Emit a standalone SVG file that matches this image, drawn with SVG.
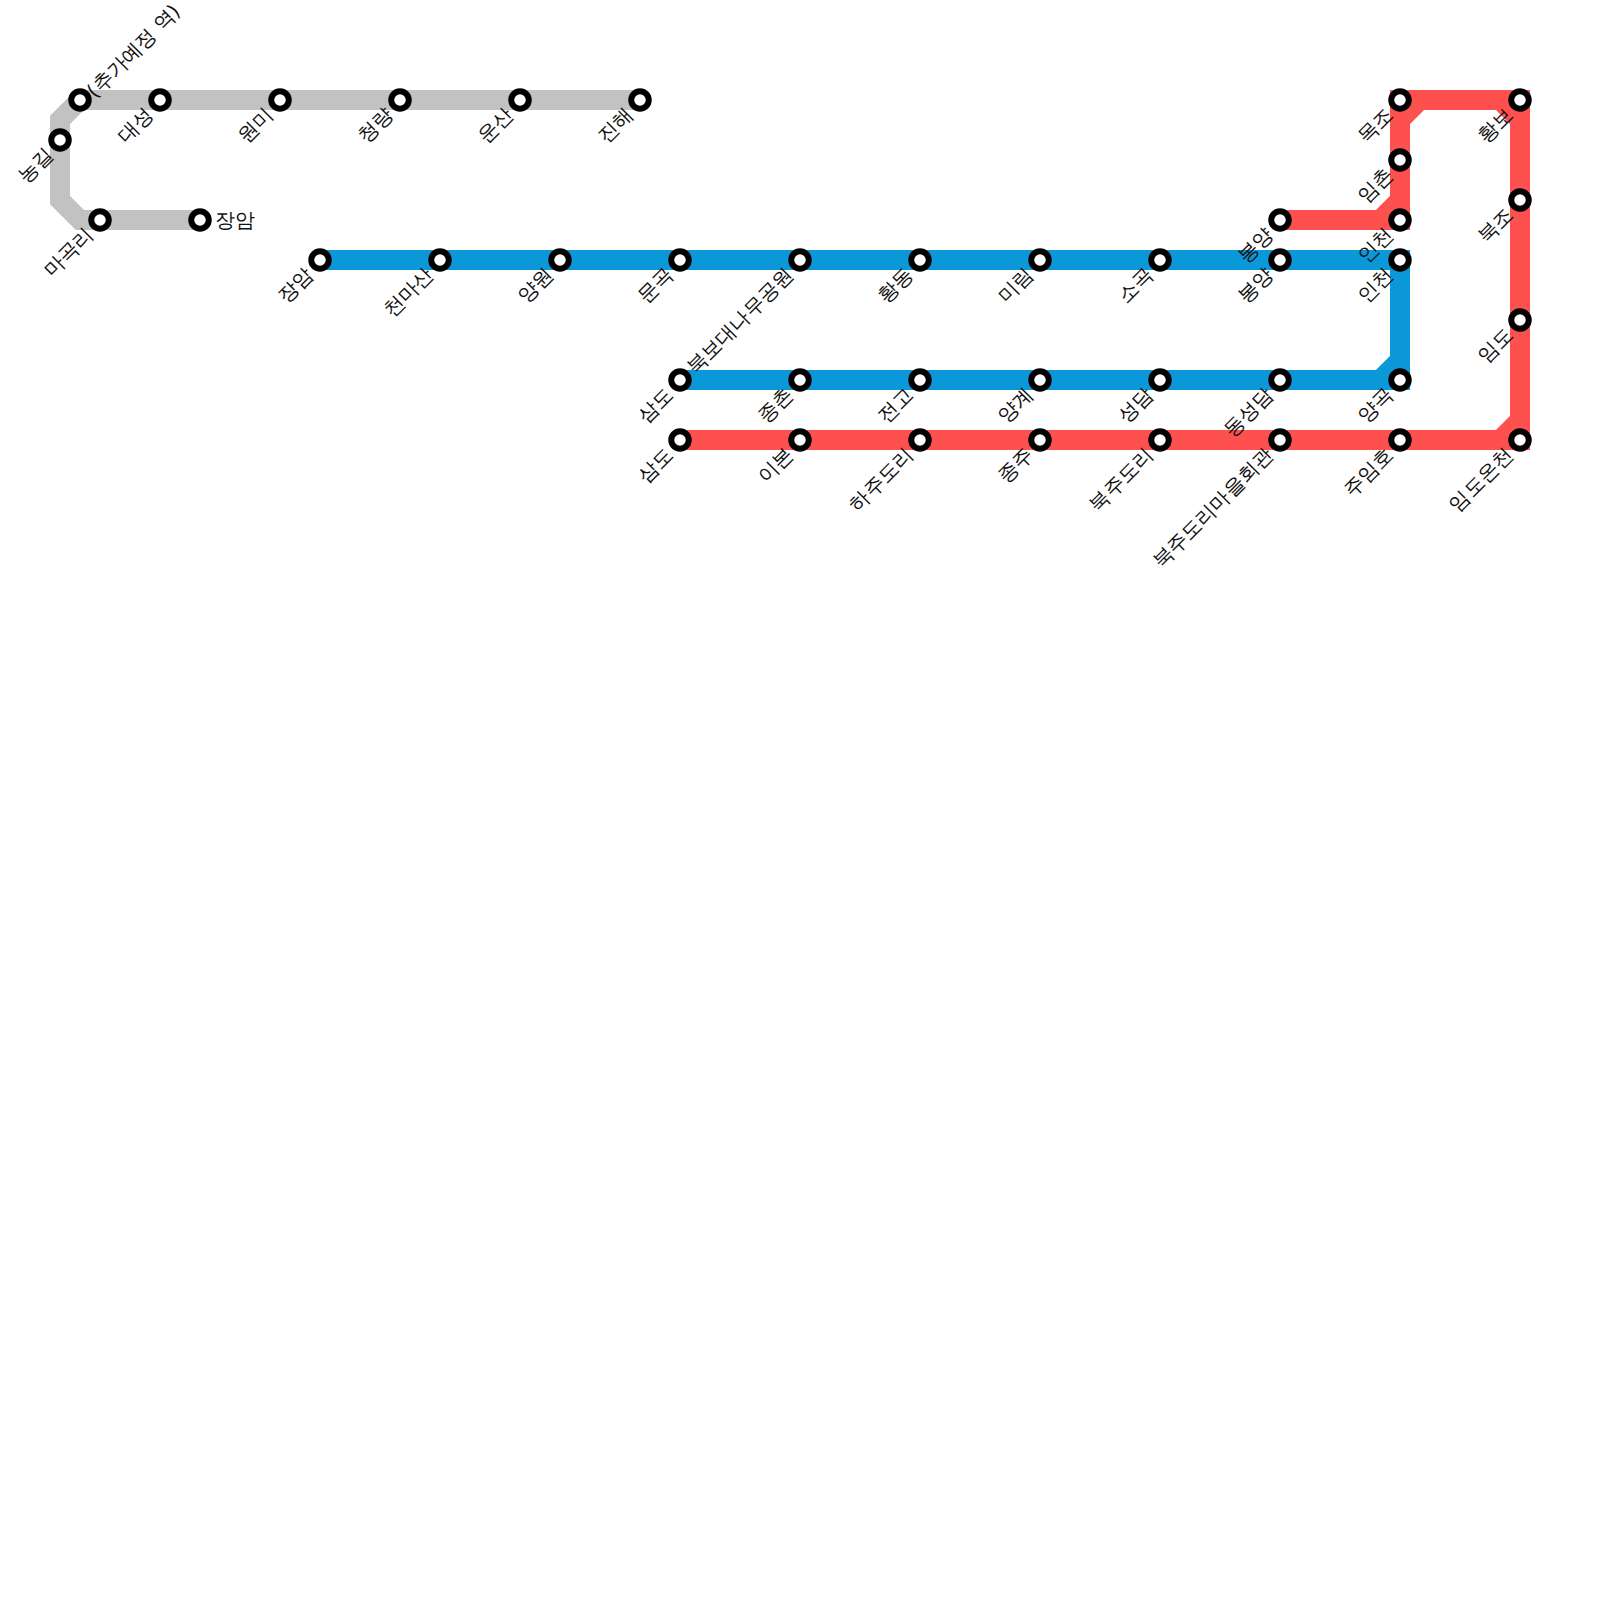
<svg xmlns="http://www.w3.org/2000/svg" width="1600" height="1600" viewBox="0 0 1600 1600">
<style>
.ln{fill:none;stroke-width:20;stroke-linejoin:miter;stroke-linecap:butt}
.st{fill:#fff;stroke:#000;stroke-width:6}
text{font-family:"DejaVu Sans",sans-serif;font-size:20px;fill:#111}
.e{text-anchor:end}
</style>
<g id="connectors">
<path class="ln" stroke="#c2c2c2" d="M640 100H80L60 120V200L80 220H200"/>
<path class="ln" stroke="#0b98d8" d="M320 260H1400V360L1380 380H680M1380 380H1400V360"/>
<path class="ln" stroke="#ff5050" d="M1280 220H1380L1400 200V120L1420 100H1500L1520 120V420L1500 440H680M1380 220H1400V200M1400 120V100H1420M1500 100H1520V120M1520 420V440H1500"/>
</g>
<g id="n1"><circle class="st" cx="60" cy="140" r="8.75"/><text class="e" transform="translate(54 156) rotate(-45)">농길</text></g>
<g id="n2"><circle class="st" cx="80" cy="100" r="8.75"/><text transform="translate(95 99) rotate(-45)">(추가예정 역)</text></g>
<g id="n3"><circle class="st" cx="160" cy="100" r="8.75"/><text class="e" transform="translate(154 116) rotate(-45)">대성</text></g>
<g id="n4"><circle class="st" cx="280" cy="100" r="8.75"/><text class="e" transform="translate(274 116) rotate(-45)">원미</text></g>
<g id="n5"><circle class="st" cx="400" cy="100" r="8.75"/><text class="e" transform="translate(394 116) rotate(-45)">청량</text></g>
<g id="n6"><circle class="st" cx="520" cy="100" r="8.75"/><text class="e" transform="translate(514 116) rotate(-45)">운산</text></g>
<g id="n7"><circle class="st" cx="640" cy="100" r="8.75"/><text class="e" transform="translate(634 116) rotate(-45)">진해</text></g>
<g id="n8"><circle class="st" cx="100" cy="220" r="8.75"/><text class="e" transform="translate(94 236) rotate(-45)">마곡리</text></g>
<g id="n9"><circle class="st" cx="200" cy="220" r="8.75"/><text x="215" y="227">장암</text></g>
<g id="b1"><circle class="st" cx="320" cy="260" r="8.75"/><text class="e" transform="translate(314 276) rotate(-45)">장암</text></g>
<g id="b2"><circle class="st" cx="440" cy="260" r="8.75"/><text class="e" transform="translate(434 276) rotate(-45)">천마산</text></g>
<g id="b3"><circle class="st" cx="560" cy="260" r="8.75"/><text class="e" transform="translate(554 276) rotate(-45)">양원</text></g>
<g id="b4"><circle class="st" cx="680" cy="260" r="8.75"/><text class="e" transform="translate(674 276) rotate(-45)">문곡</text></g>
<g id="b5"><circle class="st" cx="800" cy="260" r="8.75"/><text class="e" transform="translate(794 276) rotate(-45)">북보대나무공원</text></g>
<g id="b6"><circle class="st" cx="920" cy="260" r="8.75"/><text class="e" transform="translate(914 276) rotate(-45)">황동</text></g>
<g id="b7"><circle class="st" cx="1040" cy="260" r="8.75"/><text class="e" transform="translate(1034 276) rotate(-45)">미림</text></g>
<g id="b8"><circle class="st" cx="1160" cy="260" r="8.75"/><text class="e" transform="translate(1154 276) rotate(-45)">소곡</text></g>
<g id="b9"><circle class="st" cx="1280" cy="260" r="8.75"/><text class="e" transform="translate(1274 276) rotate(-45)">봉양</text></g>
<g id="b10"><circle class="st" cx="1400" cy="260" r="8.75"/><text class="e" transform="translate(1394 276) rotate(-45)">인천</text></g>
<g id="c1"><circle class="st" cx="680" cy="380" r="8.75"/><text class="e" transform="translate(674 396) rotate(-45)">삼도</text></g>
<g id="c2"><circle class="st" cx="800" cy="380" r="8.75"/><text class="e" transform="translate(794 396) rotate(-45)">종촌</text></g>
<g id="c3"><circle class="st" cx="920" cy="380" r="8.75"/><text class="e" transform="translate(914 396) rotate(-45)">전고</text></g>
<g id="c4"><circle class="st" cx="1040" cy="380" r="8.75"/><text class="e" transform="translate(1034 396) rotate(-45)">양계</text></g>
<g id="c5"><circle class="st" cx="1160" cy="380" r="8.75"/><text class="e" transform="translate(1154 396) rotate(-45)">성담</text></g>
<g id="c6"><circle class="st" cx="1280" cy="380" r="8.75"/><text class="e" transform="translate(1274 396) rotate(-45)">동성담</text></g>
<g id="c7"><circle class="st" cx="1400" cy="380" r="8.75"/><text class="e" transform="translate(1394 396) rotate(-45)">양곡</text></g>
<g id="r1"><circle class="st" cx="680" cy="440" r="8.75"/><text class="e" transform="translate(674 456) rotate(-45)">삼도</text></g>
<g id="r2"><circle class="st" cx="800" cy="440" r="8.75"/><text class="e" transform="translate(794 456) rotate(-45)">이본</text></g>
<g id="r3"><circle class="st" cx="920" cy="440" r="8.75"/><text class="e" transform="translate(914 456) rotate(-45)">하주도리</text></g>
<g id="r4"><circle class="st" cx="1040" cy="440" r="8.75"/><text class="e" transform="translate(1034 456) rotate(-45)">종주</text></g>
<g id="r5"><circle class="st" cx="1160" cy="440" r="8.75"/><text class="e" transform="translate(1154 456) rotate(-45)">북주도리</text></g>
<g id="r6"><circle class="st" cx="1280" cy="440" r="8.75"/><text class="e" transform="translate(1274 456) rotate(-45)">북주도리마을회관</text></g>
<g id="r7"><circle class="st" cx="1400" cy="440" r="8.75"/><text class="e" transform="translate(1394 456) rotate(-45)">주임호</text></g>
<g id="r8"><circle class="st" cx="1520" cy="440" r="8.75"/><text class="e" transform="translate(1514 456) rotate(-45)">임도온천</text></g>
<g id="r9"><circle class="st" cx="1520" cy="320" r="8.75"/><text class="e" transform="translate(1514 336) rotate(-45)">임도</text></g>
<g id="r10"><circle class="st" cx="1520" cy="200" r="8.75"/><text class="e" transform="translate(1514 216) rotate(-45)">북조</text></g>
<g id="r11"><circle class="st" cx="1520" cy="100" r="8.75"/><text class="e" transform="translate(1514 116) rotate(-45)">황보</text></g>
<g id="r12"><circle class="st" cx="1400" cy="100" r="8.75"/><text class="e" transform="translate(1394 116) rotate(-45)">목조</text></g>
<g id="r13"><circle class="st" cx="1400" cy="160" r="8.75"/><text class="e" transform="translate(1394 176) rotate(-45)">임촌</text></g>
<g id="r14"><circle class="st" cx="1400" cy="220" r="8.75"/><text class="e" transform="translate(1394 236) rotate(-45)">인천</text></g>
<g id="r15"><circle class="st" cx="1280" cy="220" r="8.75"/><text class="e" transform="translate(1274 236) rotate(-45)">봉양</text></g>
</svg>
